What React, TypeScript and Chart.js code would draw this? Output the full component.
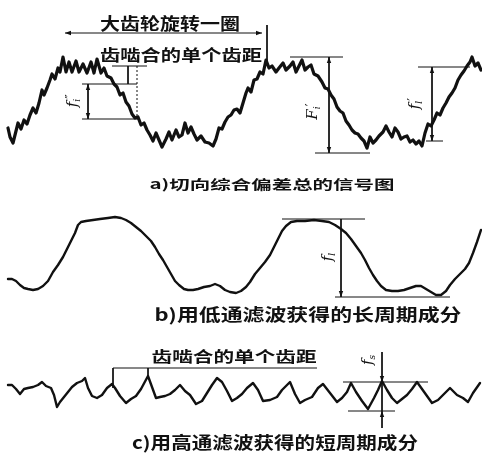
import { useEffect, useRef } from "react";
import { Chart, registerables } from "chart.js";

Chart.register(...registerables);

type P = [number, number];

// a) total tangential composite signal (x along the gear rotation, y downward in drawing units)
const signalA: P[] = [
  [8, 128], [10, 137], [13, 143], [15, 135], [18, 123], [21, 129], [24, 120], [27, 124], [30, 115], [33, 108],
  [36, 113], [39, 103], [42, 90], [44, 95], [47, 88], [50, 80], [52, 74], [55, 79], [58, 68], [60, 72],
  [63, 57], [66, 72], [69, 62], [72, 72], [76, 61], [79, 72], [83, 64], [87, 73], [91, 62], [94, 73],
  [97, 59], [101, 73], [104, 68], [107, 76], [111, 78], [114, 84], [117, 87], [120, 95], [123, 93], [126, 102],
  [129, 106], [132, 114], [135, 118], [138, 117], [141, 125], [144, 123], [147, 130], [150, 135], [153, 141], [156, 133],
  [159, 140], [162, 147], [166, 139], [169, 132], [172, 140], [176, 130], [179, 137], [182, 135], [185, 123], [188, 133],
  [191, 127], [194, 134], [197, 140], [201, 136], [205, 142], [209, 143], [213, 146], [216, 139], [219, 128], [222, 129],
  [225, 122], [228, 117], [231, 115], [234, 110], [237, 109], [240, 113], [243, 103], [246, 93], [248, 88], [251, 92],
  [254, 80], [257, 79], [260, 72], [263, 74], [266, 60], [269, 68], [272, 66], [276, 72], [279, 68], [283, 63],
  [286, 70], [290, 66], [293, 62], [296, 72], [299, 66], [302, 60], [305, 70], [308, 67], [311, 65], [314, 74],
  [318, 76], [322, 82], [325, 88], [328, 89], [331, 95], [334, 99], [337, 107], [340, 111], [343, 113], [346, 121],
  [349, 125], [352, 130], [355, 133], [358, 134], [361, 138], [364, 141], [367, 148], [370, 137], [373, 143], [376, 140],
  [379, 136], [383, 132], [386, 126], [389, 132], [392, 137], [395, 128], [398, 132], [401, 139], [404, 137], [407, 136],
  [410, 142], [413, 140], [416, 144], [419, 141], [422, 146], [425, 133], [428, 124], [431, 126], [434, 120], [437, 113],
  [440, 115], [443, 108], [446, 103], [449, 97], [452, 93], [455, 88], [458, 80], [461, 75], [464, 71], [467, 66],
  [470, 62], [472, 57], [475, 66], [478, 63], [481, 70],
];

// b) long-period component (low-pass filtered)
const longB: P[] = [
  [8, 279], [12, 279], [16, 281], [20, 285], [24, 288], [28, 289], [33, 290], [38, 289], [43, 286], [48, 281],
  [53, 272], [58, 265], [63, 257], [67, 249], [71, 241], [75, 233], [78, 225], [81, 222], [86, 221], [93, 220],
  [100, 219], [108, 218], [115, 217], [121, 218], [126, 220], [131, 223], [136, 227], [141, 231], [146, 236], [151, 241],
  [155, 247], [159, 254], [163, 260], [167, 267], [171, 274], [175, 281], [179, 285], [184, 289], [188, 290], [193, 290],
  [198, 289], [204, 287], [210, 286], [215, 284], [220, 286], [225, 290], [230, 292], [236, 293], [241, 291], [246, 287],
  [250, 282], [255, 274], [260, 268], [265, 262], [270, 255], [274, 247], [278, 239], [282, 231], [286, 226], [291, 222],
  [297, 221], [305, 221], [314, 220], [322, 221], [329, 222], [335, 225], [341, 229], [346, 233], [351, 239], [356, 246],
  [361, 253], [365, 260], [369, 268], [373, 275], [377, 281], [381, 286], [386, 290], [392, 291], [398, 291], [404, 290],
  [410, 288], [416, 286], [421, 286], [426, 289], [431, 292], [436, 295], [441, 295], [446, 291], [450, 285], [455, 279],
  [460, 274], [465, 269], [469, 263], [473, 253], [477, 242], [481, 230],
];

// c) short-period component (high-pass filtered), one tooth per pitch
const shortC: P[] = [
  [8, 385], [12, 385], [16, 389], [20, 394], [24, 389], [28, 388], [33, 387], [38, 385], [42, 382], [46, 386],
  [51, 388], [54, 395], [57, 407], [60, 402], [64, 397], [68, 392], [72, 387], [77, 383], [82, 381], [85, 378],
  [88, 388], [92, 396], [97, 398], [102, 395], [107, 388], [112, 384], [115, 388], [120, 396], [126, 403], [131, 399],
  [136, 396], [141, 389], [148, 376], [152, 387], [156, 398], [160, 397], [165, 396], [170, 394], [175, 390], [180, 385],
  [185, 391], [190, 395], [196, 404], [202, 401], [207, 393], [212, 385], [217, 378], [222, 382], [227, 391], [232, 401],
  [237, 398], [242, 394], [247, 388], [253, 383], [258, 390], [263, 401], [270, 400], [277, 397], [282, 390], [290, 382],
  [295, 394], [300, 403], [305, 400], [312, 397], [318, 388], [323, 384], [330, 393], [337, 402], [342, 398], [347, 392],
  [351, 383], [356, 392], [362, 401], [368, 409], [374, 398], [378, 390], [382, 381], [387, 390], [392, 398], [397, 403],
  [402, 399], [407, 395], [412, 389], [417, 382], [422, 389], [427, 396], [432, 403], [438, 400], [445, 393], [450, 388],
  [457, 395], [463, 398], [468, 402], [473, 393], [480, 383],
];

// Extension and dimension lines
const guideLines: P[][] = [
  // a) one revolution and one pitch
  [[65, 33], [262, 33]],
  [[267, 25], [267, 62]],
  [[112, 66], [147, 66]],
  [[128, 66], [128, 84]],
  // a) tooth-to-tooth deviation
  [[82, 84], [137, 84]],
  [[82, 119], [138, 119]],
  [[88, 84], [88, 119]],
  // a) total deviation
  [[290, 57], [343, 57]],
  [[315, 153], [370, 153]],
  [[329, 57], [329, 153]],
  // a) long-period deviation
  [[418, 67], [470, 67]],
  [[426, 141], [443, 141]],
  [[432, 67], [432, 141]],
  // b) long-period amplitude
  [[282, 219], [365, 219]],
  [[335, 297], [450, 297]],
  [[341, 219], [341, 297]],
  // c) pitch bracket
  [[113, 368], [317, 368]],
  [[113, 368], [113, 388]],
  [[148, 368], [148, 376]],
  // c) short-period amplitude
  [[343, 382], [428, 382]],
  [[348, 411], [395, 411]],
  [[382, 352], [382, 428]],
];

const dottedLines: P[][] = [[[137, 66], [137, 119]]];

type Dir = "up" | "down" | "left" | "right";
const arrowTips: { tip: P; dir: Dir }[] = [
  { tip: [65, 33], dir: "left" },
  { tip: [262, 33], dir: "right" },
  { tip: [88, 84], dir: "up" },
  { tip: [88, 119], dir: "down" },
  { tip: [329, 57], dir: "up" },
  { tip: [329, 153], dir: "down" },
  { tip: [432, 67], dir: "up" },
  { tip: [432, 141], dir: "down" },
  { tip: [341, 297], dir: "down" },
  { tip: [382, 382], dir: "down" },
  { tip: [382, 411], dir: "up" },
];

// Text
const revolutionText = "大齿轮旋转一圈";
const pitchText = "齿啮合的单个齿距";
const captionA = "a)切向综合偏差总的信号图";
const captionB = "b)用低通滤波获得的长周期成分";
const captionC = "c)用高通滤波获得的短周期成分";

const textLayout = [
  { text: revolutionText, cx: 170, cy: 24, w: 140, size: 17 },
  { text: pitchText, cx: 181, cy: 55, w: 162, size: 16 },
  { text: captionA, cx: 272, cy: 184, w: 245, size: 13 },
  { text: captionB, cx: 308, cy: 315, w: 307, size: 17 },
  { text: pitchText, cx: 234, cy: 356, w: 165, size: 15 },
  { text: captionC, cx: 275, cy: 443, w: 286, size: 17 },
];

// Deviation symbols written along their dimension lines
const symbolLayout = [
  { main: "f", sub: "i", mark: "″", cx: 72, cy: 100 },
  { main: "F", sub: "i", mark: "′", cx: 312, cy: 110 },
  { main: "f", sub: "l", mark: "′", cx: 414, cy: 102 },
  { main: "f", sub: "l", mark: "", cx: 327, cy: 257 },
  { main: "f", sub: "s", mark: "", cx: 367, cy: 360 },
];

const INK = "#111";

export default function App() {
  const canvasRef = useRef<HTMLCanvasElement | null>(null);

  useEffect(() => {
    const canvas = canvasRef.current;
    if (!canvas) return;

    const toXY = (pts: P[]) => pts.map(([x, y]) => ({ x, y }));
    const curve = (pts: P[], width: number) => ({
      data: toXY(pts),
      borderColor: INK,
      borderWidth: width,
      pointRadius: 0,
      tension: 0,
      fill: false,
      borderJoinStyle: "round" as const,
      borderCapStyle: "round" as const,
    });
    const thin = (pts: P[], dash: number[] = []) => ({
      data: toXY(pts),
      borderColor: INK,
      borderWidth: 1,
      borderDash: dash,
      pointRadius: 0,
      tension: 0,
      fill: false,
    });

    const overlay = {
      id: "overlay",
      afterDatasetsDraw(chart: any) {
        const { ctx } = chart;
        const sx = chart.scales.x;
        const sy = chart.scales.y;
        const px = (v: number) => sx.getPixelForValue(v);
        const py = (v: number) => sy.getPixelForValue(v);

        ctx.save();
        ctx.fillStyle = INK;
        // arrowheads
        for (const a of arrowTips) {
          const x = px(a.tip[0]);
          const y = py(a.tip[1]);
          const L = 6;
          const W = 2.2;
          ctx.beginPath();
          ctx.moveTo(x, y);
          if (a.dir === "up") { ctx.lineTo(x - W, y + L); ctx.lineTo(x + W, y + L); }
          if (a.dir === "down") { ctx.lineTo(x - W, y - L); ctx.lineTo(x + W, y - L); }
          if (a.dir === "left") { ctx.lineTo(x + L, y - W); ctx.lineTo(x + L, y + W); }
          if (a.dir === "right") { ctx.lineTo(x - L, y - W); ctx.lineTo(x - L, y + W); }
          ctx.closePath();
          ctx.fill();
        }

        // captions, stretched to their width
        ctx.textAlign = "center";
        ctx.textBaseline = "middle";
        for (const t of textLayout) {
          ctx.save();
          ctx.font = `700 ${t.size}px "Noto Sans CJK SC", sans-serif`;
          const m = ctx.measureText(t.text).width;
          ctx.translate(px(t.cx), py(t.cy));
          ctx.scale(t.w / m, 1);
          ctx.fillText(t.text, 0, 0);
          ctx.restore();
        }

        // rotated deviation symbols
        for (const s of symbolLayout) {
          ctx.save();
          ctx.translate(px(s.cx), py(s.cy));
          ctx.rotate(-Math.PI / 2);
          ctx.textAlign = "left";
          ctx.textBaseline = "alphabetic";
          ctx.font = `italic 15px "DejaVu Serif", serif`;
          const mw = ctx.measureText(s.main).width;
          ctx.font = `italic 9px "DejaVu Serif", serif`;
          const sw = ctx.measureText(s.sub).width;
          const total = mw + sw + (s.mark ? 6 : 0);
          let x0 = -total / 2;
          ctx.font = `italic 15px "DejaVu Serif", serif`;
          ctx.fillText(s.main, x0, 5);
          x0 += mw;
          ctx.font = `italic 9px "DejaVu Serif", serif`;
          ctx.fillText(s.sub, x0, 8);
          if (s.mark) {
            ctx.font = `12px "DejaVu Sans", sans-serif`;
            ctx.fillText(s.mark, x0 + sw, 2);
          }
          ctx.restore();
        }
        ctx.restore();
      },
    };

    const chart = new Chart(canvas, {
      type: "line",
      data: {
        datasets: [
          curve(signalA, 3.2),
          curve(longB, 2.4),
          curve(shortC, 2.4),
          ...guideLines.map((g) => thin(g)),
          ...dottedLines.map((g) => thin(g, [2, 2])),
        ] as any,
      },
      options: {
        animation: false,
        responsive: true,
        maintainAspectRatio: false,
        layout: { padding: 0 },
        plugins: {
          legend: { display: false },
          tooltip: { enabled: false },
        },
        events: [],
        scales: {
          x: { type: "linear", min: 0, max: 482, display: false },
          y: { type: "linear", min: 0, max: 461, reverse: true, display: false },
        },
      },
      plugins: [overlay],
    });

    return () => chart.destroy();
  }, []);

  return (
    <div style={{ position: "fixed", left: 0, top: 0, width: 482, height: 461, background: "#fff" }}>
      <canvas ref={canvasRef} />
    </div>
  );
}
